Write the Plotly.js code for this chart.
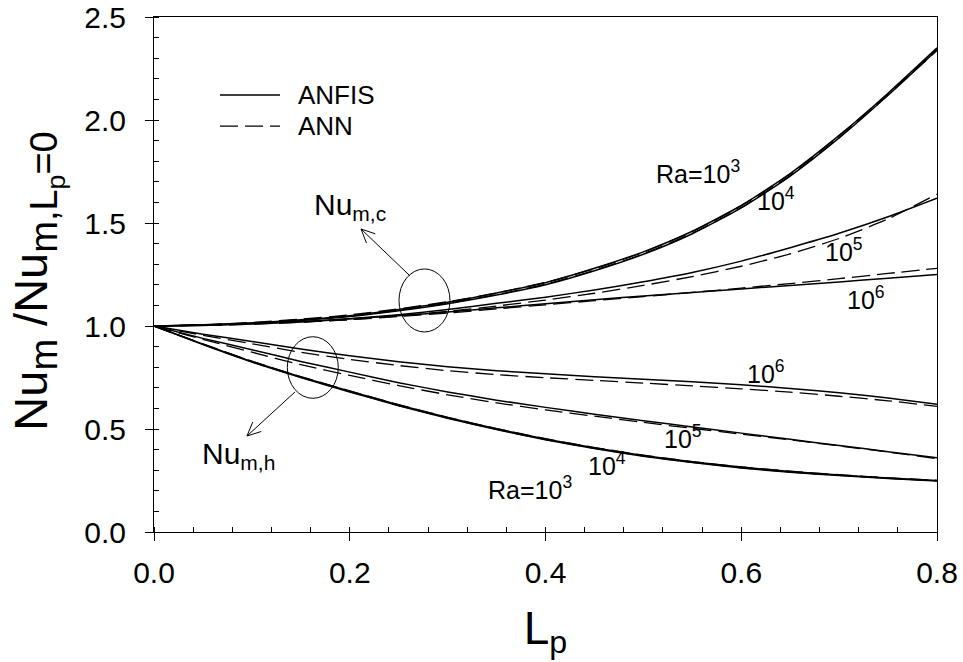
<!DOCTYPE html>
<html>
<head>
<meta charset="utf-8">
<script src="https://cdn.plot.ly/plotly-3.0.1.min.js"></script>
<style>html,body{margin:0;padding:0;background:#fff;}#chart{width:963px;height:662px;}</style>
</head>
<body>
<div id="chart"></div>
<script>
// ---- data ----
const Lp = [0, 0.05, 0.1, 0.15, 0.2, 0.25, 0.3, 0.35, 0.4, 0.45, 0.5, 0.55, 0.6, 0.65, 0.7, 0.75, 0.8];

// Nu_m,c / Nu_m,Lp=0  (cold wall) - ANFIS
const anfisC_Ra1e3 = [1.000, 1.005, 1.015, 1.030, 1.050, 1.080, 1.115, 1.160, 1.210, 1.280, 1.360, 1.460, 1.585, 1.740, 1.925, 2.130, 2.350];
const anfisC_Ra1e4 = [1.000, 1.004, 1.013, 1.027, 1.046, 1.074, 1.108, 1.150, 1.200, 1.268, 1.348, 1.448, 1.573, 1.728, 1.913, 2.120, 2.340];
const anfisC_Ra1e5 = [1.000, 1.003, 1.010, 1.020, 1.035, 1.055, 1.080, 1.110, 1.140, 1.175, 1.215, 1.260, 1.315, 1.380, 1.450, 1.530, 1.620];
const anfisC_Ra1e6 = [1.000, 1.005, 1.012, 1.022, 1.035, 1.050, 1.068, 1.088, 1.108, 1.128, 1.146, 1.163, 1.180, 1.197, 1.214, 1.232, 1.250];
// ANN
const annC_Ra1e3 = [1.000, 1.006, 1.017, 1.033, 1.054, 1.083, 1.118, 1.160, 1.212, 1.278, 1.358, 1.458, 1.583, 1.738, 1.923, 2.128, 2.345];
const annC_Ra1e4 = [1.000, 1.005, 1.014, 1.029, 1.048, 1.076, 1.110, 1.152, 1.203, 1.270, 1.350, 1.450, 1.575, 1.730, 1.915, 2.122, 2.338];
const annC_Ra1e5 = [1.000, 1.003, 1.009, 1.018, 1.031, 1.049, 1.071, 1.097, 1.126, 1.159, 1.197, 1.240, 1.290, 1.350, 1.425, 1.520, 1.640];
const annC_Ra1e6 = [1.000, 1.004, 1.010, 1.019, 1.031, 1.046, 1.063, 1.083, 1.103, 1.123, 1.143, 1.163, 1.184, 1.206, 1.230, 1.255, 1.280];

// Nu_m,h / Nu_m,Lp=0  (hot wall) - ANFIS
const anfisH_Ra1e3 = [1.000, 0.910, 0.825, 0.750, 0.680, 0.613, 0.552, 0.497, 0.448, 0.405, 0.368, 0.337, 0.311, 0.290, 0.274, 0.260, 0.248];
const anfisH_Ra1e4 = [1.000, 0.912, 0.828, 0.753, 0.684, 0.617, 0.556, 0.501, 0.452, 0.409, 0.372, 0.341, 0.315, 0.294, 0.277, 0.262, 0.250];
const anfisH_Ra1e5 = [1.000, 0.940, 0.885, 0.828, 0.776, 0.725, 0.680, 0.640, 0.605, 0.572, 0.540, 0.510, 0.480, 0.450, 0.420, 0.390, 0.360];
const anfisH_Ra1e6 = [1.000, 0.960, 0.925, 0.888, 0.856, 0.827, 0.802, 0.783, 0.768, 0.754, 0.742, 0.729, 0.715, 0.697, 0.676, 0.650, 0.620];
// ANN
const annH_Ra1e3 = [1.000, 0.911, 0.826, 0.751, 0.681, 0.614, 0.553, 0.498, 0.449, 0.406, 0.369, 0.338, 0.312, 0.291, 0.275, 0.261, 0.249];
const annH_Ra1e4 = [1.000, 0.913, 0.829, 0.754, 0.685, 0.618, 0.557, 0.502, 0.453, 0.410, 0.373, 0.342, 0.316, 0.295, 0.278, 0.263, 0.251];
const annH_Ra1e5 = [1.000, 0.935, 0.873, 0.812, 0.760, 0.711, 0.666, 0.627, 0.593, 0.562, 0.532, 0.503, 0.475, 0.447, 0.418, 0.388, 0.356];
const annH_Ra1e6 = [1.000, 0.955, 0.914, 0.872, 0.838, 0.808, 0.783, 0.764, 0.749, 0.736, 0.723, 0.709, 0.695, 0.679, 0.659, 0.637, 0.610];

const xTickVals = [0, 0.2, 0.4, 0.6, 0.8];
const yTickVals = [0, 0.5, 1.0, 1.5, 2.0, 2.5];
const legendNames = ['ANFIS', 'ANN'];

// ---- geometry ----
const W = 963, H = 662, ML = 154, MR = 26, MT = 17, MB = 130;
const XR = [0, 0.8], YR = [0, 2.5];
const SX = (W - ML - MR) / (XR[1] - XR[0]);   // px per x unit
const SY = (H - MT - MB) / (YR[1] - YR[0]);   // px per y unit

// ---- traces ----
const FONT = 'Liberation Sans, Arial, Helvetica, sans-serif';
const anfisSet = [anfisC_Ra1e3, anfisC_Ra1e4, anfisC_Ra1e5, anfisC_Ra1e6, anfisH_Ra1e3, anfisH_Ra1e4, anfisH_Ra1e5, anfisH_Ra1e6];
const annSet = [annC_Ra1e3, annC_Ra1e4, annC_Ra1e5, annC_Ra1e6, annH_Ra1e3, annH_Ra1e4, annH_Ra1e5, annH_Ra1e6];
const DASH = '18px,7px';
const traces = [];
anfisSet.forEach(ys => traces.push({x: Lp, y: ys, mode: 'lines', type: 'scatter', showlegend: false, hoverinfo: 'skip',
  line: {color: '#000', width: 1.5, shape: 'spline', smoothing: 0.6}}));
annSet.forEach(ys => traces.push({x: Lp, y: ys, mode: 'lines', type: 'scatter', showlegend: false, hoverinfo: 'skip',
  line: {color: '#000', width: 1.3, dash: DASH, shape: 'spline', smoothing: 0.6}}));

// ---- annotations ----
const lblFont = {family: FONT, size: 25, color: '#000'};
const nuFont = {family: FONT, size: 30, color: '#000'};
function lbl(x, y, t, f) { return {x: x, y: y, xref: 'x', yref: 'y', text: t, showarrow: false, font: f || lblFont}; }

const annotations = [
  lbl(0.556, 1.75, 'Ra=10<sup>3</sup>'),
  lbl(0.635, 1.615, '10<sup>4</sup>'),
  lbl(0.705, 1.37, '10<sup>5</sup>'),
  lbl(0.727, 1.135, '10<sup>6</sup>'),
  lbl(0.625, 0.775, '10<sup>6</sup>'),
  lbl(0.540, 0.46, '10<sup>5</sup>'),
  lbl(0.463, 0.33, '10<sup>4</sup>'),
  lbl(0.384, 0.215, 'Ra=10<sup>3</sup>'),
  lbl(0.2004, 1.58, 'Nu<sub>m,c</sub>', nuFont),
  lbl(0.0868, 0.37, 'Nu<sub>m,h</sub>', nuFont),
  // legend text
  {x: 0.1814, y: 0.8485, xref: 'paper', yref: 'paper', xanchor: 'left', yanchor: 'middle', text: legendNames[0], showarrow: false, font: {family: FONT, size: 26, color: '#000'}},
  {x: 0.1814, y: 0.7883, xref: 'paper', yref: 'paper', xanchor: 'left', yanchor: 'middle', text: legendNames[1], showarrow: false, font: {family: FONT, size: 26, color: '#000'}},
  // y-axis title
  {x: (38 - ML) / (W - ML - MR), y: 0.486, xref: 'paper', yref: 'paper', xanchor: 'center', yanchor: 'middle', textangle: -90, showarrow: false,
   text: 'Nu<sub><span style="font-size:38px">m</span></sub> /Nu<sub><span style="font-size:38px">m,L<sub>p</sub>=0</span></sub>',
   font: {family: FONT, size: 47, color: '#000'}}
];

// ---- shapes: ellipses, arrows, legend samples ----
const shapes = [
  {type: 'circle', xref: 'x', yref: 'y', x0: 0.2503, x1: 0.3024, y0: 0.971, y1: 1.277, line: {color: '#000', width: 1}},
  {type: 'circle', xref: 'x', yref: 'y', x0: 0.1362, x1: 0.1883, y0: 0.649, y1: 0.948, line: {color: '#000', width: 1}},
  {type: 'line', xref: 'paper', yref: 'paper', x0: 0.0843, x1: 0.1609, y0: 0.8485, y1: 0.8485, line: {color: '#000', width: 1.5}},
  {type: 'line', xref: 'paper', yref: 'paper', x0: 0.0843, x1: 0.1609, y0: 0.7883, y1: 0.7883, line: {color: '#000', width: 1.3, dash: DASH}}
];
function arrow(tipX, tipY, tailX, tailY) {
  const st = {color: '#000', width: 1};
  shapes.push({type: 'line', xref: 'x', yref: 'y', x0: tailX, y0: tailY, x1: tipX, y1: tipY, line: st});
  const dx = (tailX - tipX) * SX, dy = (tailY - tipY) * SY;
  const len = Math.hypot(dx, dy), ux = dx / len, uy = dy / len;
  const L = 15, a = 25 * Math.PI / 180;
  [a, -a].forEach(t => {
    const rx = ux * Math.cos(t) - uy * Math.sin(t), ry = ux * Math.sin(t) + uy * Math.cos(t);
    shapes.push({type: 'line', xref: 'x', yref: 'y', x0: tipX, y0: tipY, x1: tipX + L * rx / SX, y1: tipY + L * ry / SY, line: st});
  });
}
arrow(0.2115, 1.471, 0.2616, 1.243);
arrow(0.095, 0.466, 0.1441, 0.680);

// ---- layout ----
const axisCommon = {
  showgrid: false, zeroline: false, showline: true, linecolor: '#000', linewidth: 1, mirror: true,
  ticks: 'outside', ticklen: 8, tickwidth: 1, tickcolor: '#000',
  tickfont: {family: FONT, size: 30, color: '#000'}, tickformat: '.1f', fixedrange: true
};

const layout = {
  width: W, height: H,
  margin: {l: ML, r: MR, t: MT, b: MB},
  paper_bgcolor: '#fff', plot_bgcolor: '#fff',
  font: {family: FONT, color: '#000'},
  showlegend: false,
  xaxis: Object.assign({}, axisCommon, {
    range: XR, tickmode: 'array', tickvals: xTickVals, ticklabelstandoff: 6,
    minor: {ticks: 'inside', dtick: 0.04, tick0: 0, ticklen: 5, tickwidth: 1, tickcolor: '#000', showgrid: false},
    title: {text: 'L<sub>p</sub>', font: {family: FONT, size: 46, color: '#000'}, standoff: 23}
  }),
  yaxis: Object.assign({}, axisCommon, {
    range: YR, tickmode: 'array', tickvals: yTickVals, ticklabelstandoff: 13,
    minor: {ticks: 'inside', dtick: 0.1, tick0: 0, ticklen: 5, tickwidth: 1, tickcolor: '#000', showgrid: false},
    title: {text: ''}
  }),
  annotations: annotations,
  shapes: shapes
};

Plotly.newPlot('chart', traces, layout, {displayModeBar: false, staticPlot: true});
</script>
</body>
</html>
